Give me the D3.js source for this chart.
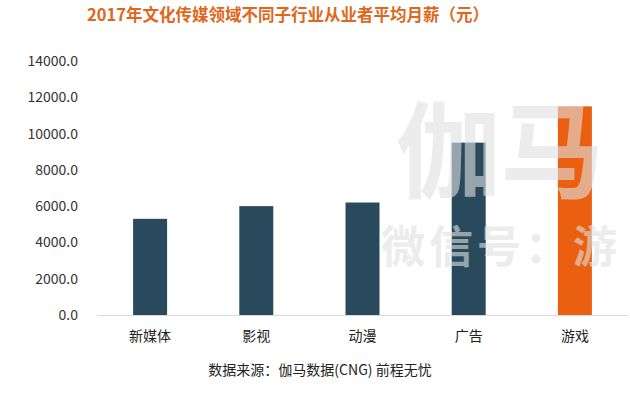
<!DOCTYPE html>
<html><head><meta charset="utf-8">
<script src="https://cdn.jsdelivr.net/npm/d3@7"></script>
<style>body{margin:0;background:#fff}svg{display:block}</style>
</head><body>
<svg id="c" width="630" height="394"></svg>
<script>
const categories = ["新媒体","影视","动漫","广告","游戏"];
const salaries = [5300, 6000, 6200, 9500, 11500];
const yTicks = [0,2000,4000,6000,8000,10000,12000,14000];
const barColors = ["#284a5c","#284a5c","#284a5c","#284a5c","#ea6010"];
const titleText = "2017年文化传媒领域不同子行业从业者平均月薪（元）";
const sourceText = "数据来源：伽马数据(CNG)  前程无忧";

const svg = d3.select("#c");
const font = "'Microsoft YaHei','Noto Sans CJK SC',sans-serif";
const x = d3.scaleBand().domain(categories).range([97, 628]).paddingInner(0.68).paddingOuter(0.34);
const y = d3.scaleLinear().domain([0,14000]).range([315, 61]);

svg.append("text").attr("x",288).attr("y",21).attr("text-anchor","middle")
  .attr("font-family",font).attr("font-weight","bold").attr("font-size",16.5)
  .attr("fill","#e0671a").text(titleText);

// y axis labels
const ya = svg.append("g").attr("transform","translate(78,0)")
  .call(d3.axisLeft(y).tickValues(yTicks).tickSize(0).tickPadding(0).tickFormat(d3.format(".1f")));
ya.select(".domain").remove();
ya.selectAll("text").attr("font-family",font).attr("font-size",14).attr("fill","#333");

// bars
svg.append("g").selectAll("rect").data(categories).join("rect")
  .attr("x",d=>x(d)).attr("width",x.bandwidth())
  .attr("y",(d,i)=>y(salaries[i])).attr("height",(d,i)=>y(0)-y(salaries[i]))
  .attr("fill",(d,i)=>barColors[i]);

// x axis
const xa = svg.append("g").attr("transform","translate(0,315.5)")
  .call(d3.axisBottom(x).tickSize(0).tickPadding(16));
xa.select(".domain").attr("stroke","#d9d9d9").attr("d","M97,0H628");
xa.selectAll("text").attr("font-family",font).attr("font-size",14).attr("fill","#222");

// watermark
const wm = svg.append("g").attr("font-family",font).attr("fill","#e0e0e0").attr("opacity",0.6);
wm.append("text").attr("x",396).attr("y",190).attr("font-size",104).attr("font-weight","bold").text("伽马");
wm.append("text").attr("x",381).attr("y",263).attr("font-size",44).attr("letter-spacing",4).attr("font-weight","bold").text("微信号：游");

svg.append("text").attr("x",320).attr("y",375).attr("text-anchor","middle")
  .attr("font-family",font).attr("font-size",14).attr("fill","#222").text(sourceText);
</script>
</body></html>
